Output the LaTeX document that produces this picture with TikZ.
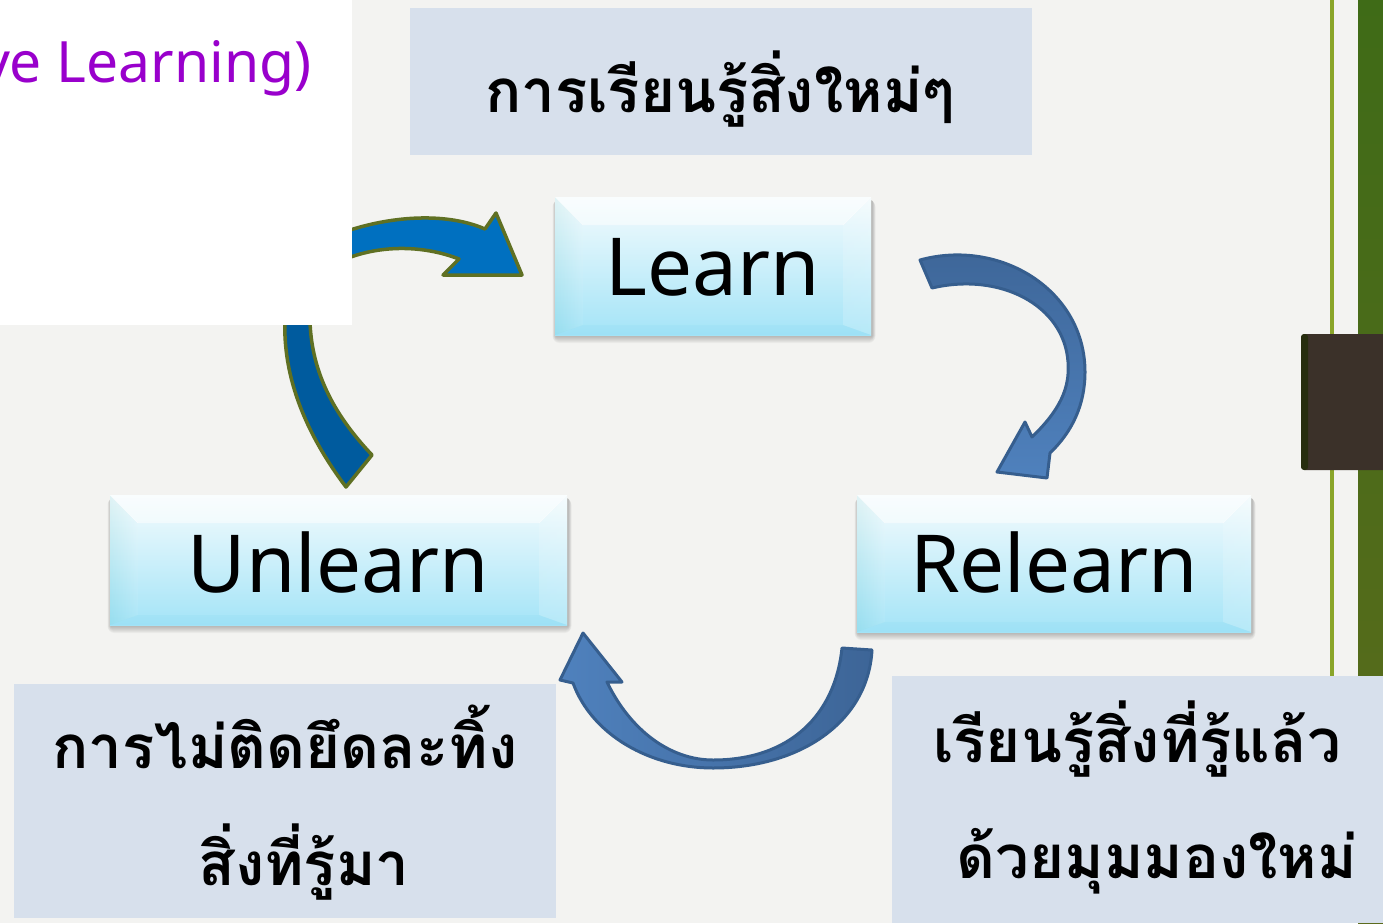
\documentclass[tikz,border=0pt]{standalone}
\usepackage{fontspec}
\setmainfont{Noto Sans}
\newfontfamily\thaifont[Script=Thai]{Loma}
\definecolor{bgc}{HTML}{F3F3F1}
\definecolor{thaibg}{HTML}{D7E0EC}
\definecolor{purp}{HTML}{9900CC}
\definecolor{cyantop}{HTML}{F4FBFD}
\definecolor{cyanbot}{HTML}{A4E4F7}
\definecolor{olive}{HTML}{5F7023}
\definecolor{blueA}{HTML}{0070C0}
\definecolor{blueB}{HTML}{005B9E}
\definecolor{steelD}{HTML}{3D6597}
\definecolor{steelL}{HTML}{4F81BD}
\definecolor{steelE}{HTML}{365E8E}
\definecolor{thinline}{HTML}{8AA52A}
\definecolor{barT}{HTML}{3F6B17}
\definecolor{barB}{HTML}{5C6B1C}
\definecolor{brownblk}{HTML}{3B3129}
\tikzset{
  thaibox/.style={fill=thaibg, draw=none, inner sep=0pt},
  thaitext/.style={font=\thaifont\bfseries\fontsize{60}{70}\selectfont, inner sep=0pt, anchor=base},
  boxtext/.style={font=\fontsize{80}{90}\selectfont, inner sep=0pt, anchor=base},
  olivearrow/.style={draw=olive, line width=3.5pt, line join=round},
  steelarrow/.style={draw=steelE, line width=3pt, line join=round},
}
\newcommand\bevbox[7]{%
  \foreach \s in {1,...,7}
    \fill[black,opacity=0.035,rounded corners=\s pt] (#2+1-\s/2,#3+3) rectangle (#4+1+\s/2,#5+1+\s);
  \shade[top color=cyantop, bottom color=cyanbot] (#2,#3) rectangle (#4,#5);
  \fill[white,opacity=0.5] (#2,#3) -- (#4,#3) -- (#4-28,#3+28) -- (#2+28,#3+28) -- cycle;
  \shade[left color=black!40!cyan, right color=cyantop, opacity=0.08] (#2,#3) -- (#2+28,#3+28) -- (#2+28,#5-10) -- (#2,#5) -- cycle;
  \shade[left color=cyantop, right color=white, opacity=0.2] (#4,#3) -- (#4-28,#3+28) -- (#4-28,#5-10) -- (#4,#5) -- cycle;
  \fill[cyan,opacity=0.04] (#2,#5) -- (#2+28,#5-10) -- (#4-28,#5-10) -- (#4,#5) -- cycle;
  \draw[white,opacity=0.6,line width=0.6pt] (#2,#3) -- (#2+28,#3+28) (#4,#3) -- (#4-28,#3+28);
  \node[inner sep=0pt, minimum width={#4-#2}, minimum height={#5-#3}] (#1) at ({(#2+#4)/2},{(#3+#5)/2}) {};
  \node[boxtext] (#1t) at ({(#2+#4)/2},#7) {#6};
}
\begin{document}
\begin{tikzpicture}[x=1pt,y=-1pt]
\useasboundingbox (0,0) rectangle (1383,923);
\fill[bgc] (0,0) rectangle (1383,923);
% right-side decoration
\fill[thinline] (1330,0) rectangle (1334,680);
\shade[top color=barT, bottom color=barB] (1358,0) rectangle (1383,923);
\fill[brownblk, rounded corners=4pt] (1301,334) rectangle (1390,470);
\fill[black!60!olive, rounded corners=3pt] (1301,334) rectangle (1308,470);
% arrows on the left (under the white panel)
\path[olivearrow, fill=blueA] (285,262) .. controls (340,222) and (430,205) .. (485,229) -- (496,213) -- (522,275) -- (443,275) -- (459,259) .. controls (410,240) and (345,245) .. (300,288) -- cycle;
\path[olivearrow, fill=blueB] (300,250) .. controls (268,330) and (288,410) .. (346,487) -- (372,455) .. controls (320,400) and (296,340) .. (318,255) -- cycle;
% white panel with title fragment
\fill[white] (0,0) rectangle (352,325);
\begin{scope}
\clip (0,0) rectangle (352,325);
\node[font=\fontsize{57}{60}\selectfont, text=purp, inner sep=0pt, anchor=base east] (title) at (312,83) {ve Learning)};
\end{scope}
% right arrow (Learn -> Relearn)
\shadedraw[steelarrow, top color=steelD, bottom color=steelL] (920,260) .. controls (1000,238) and (1085,290) .. (1085,372) .. controls (1085,405) and (1072,432) .. (1050,453) -- (1047,478) -- (997,472) -- (1025,422) -- (1032,437) .. controls (1060,410) and (1070,388) .. (1068,362) .. controls (1064,305) and (1000,272) .. (932,288) -- cycle;
% bottom arrow (Relearn -> Unlearn)
\shadedraw[steelarrow, left color=steelL, right color=steelD] (872,650) .. controls (868,722) and (800,768) .. (713,768) .. controls (650,768) and (592,735) .. (573,683) -- (560,680) -- (583,633) -- (622,682) -- (607,682) .. controls (630,730) and (670,760) .. (713,760) .. controls (790,760) and (835,715) .. (842,648) -- cycle;
% Thai caption boxes
\node[thaibox, minimum width=622, minimum height=147] (topbox) at (721,81.5) {};
\node[thaitext] (toptext) at (720,113) {การเรียนรู้สิ่งใหม่ๆ};
\node[thaibox, minimum width=542, minimum height=234] (blbox) at (285,801) {};
\node[thaitext] (bl1) at (285,768) {การไม่ติดยึดละทิ้ง};
\node[thaitext] (bl2) at (304,885) {สิ่งที่รู้มา};
\node[thaibox, minimum width=491, minimum height=247] (brbox) at (1137.5,799.5) {};
\node[thaitext] (br1) at (1137,762) {เรียนรู้สิ่งที่รู้แล้ว};
\node[thaitext] (br2) at (1157,878) {ด้วยมุมมองใหม่};
% bevelled boxes
\bevbox{learn}{555}{197}{871}{335}{Learn}{295}
\bevbox{unlearn}{110}{495}{567}{625}{Unlearn}{592}
\bevbox{relearn}{857}{495}{1251}{632}{Relearn}{592}
\end{tikzpicture}
\end{document}
